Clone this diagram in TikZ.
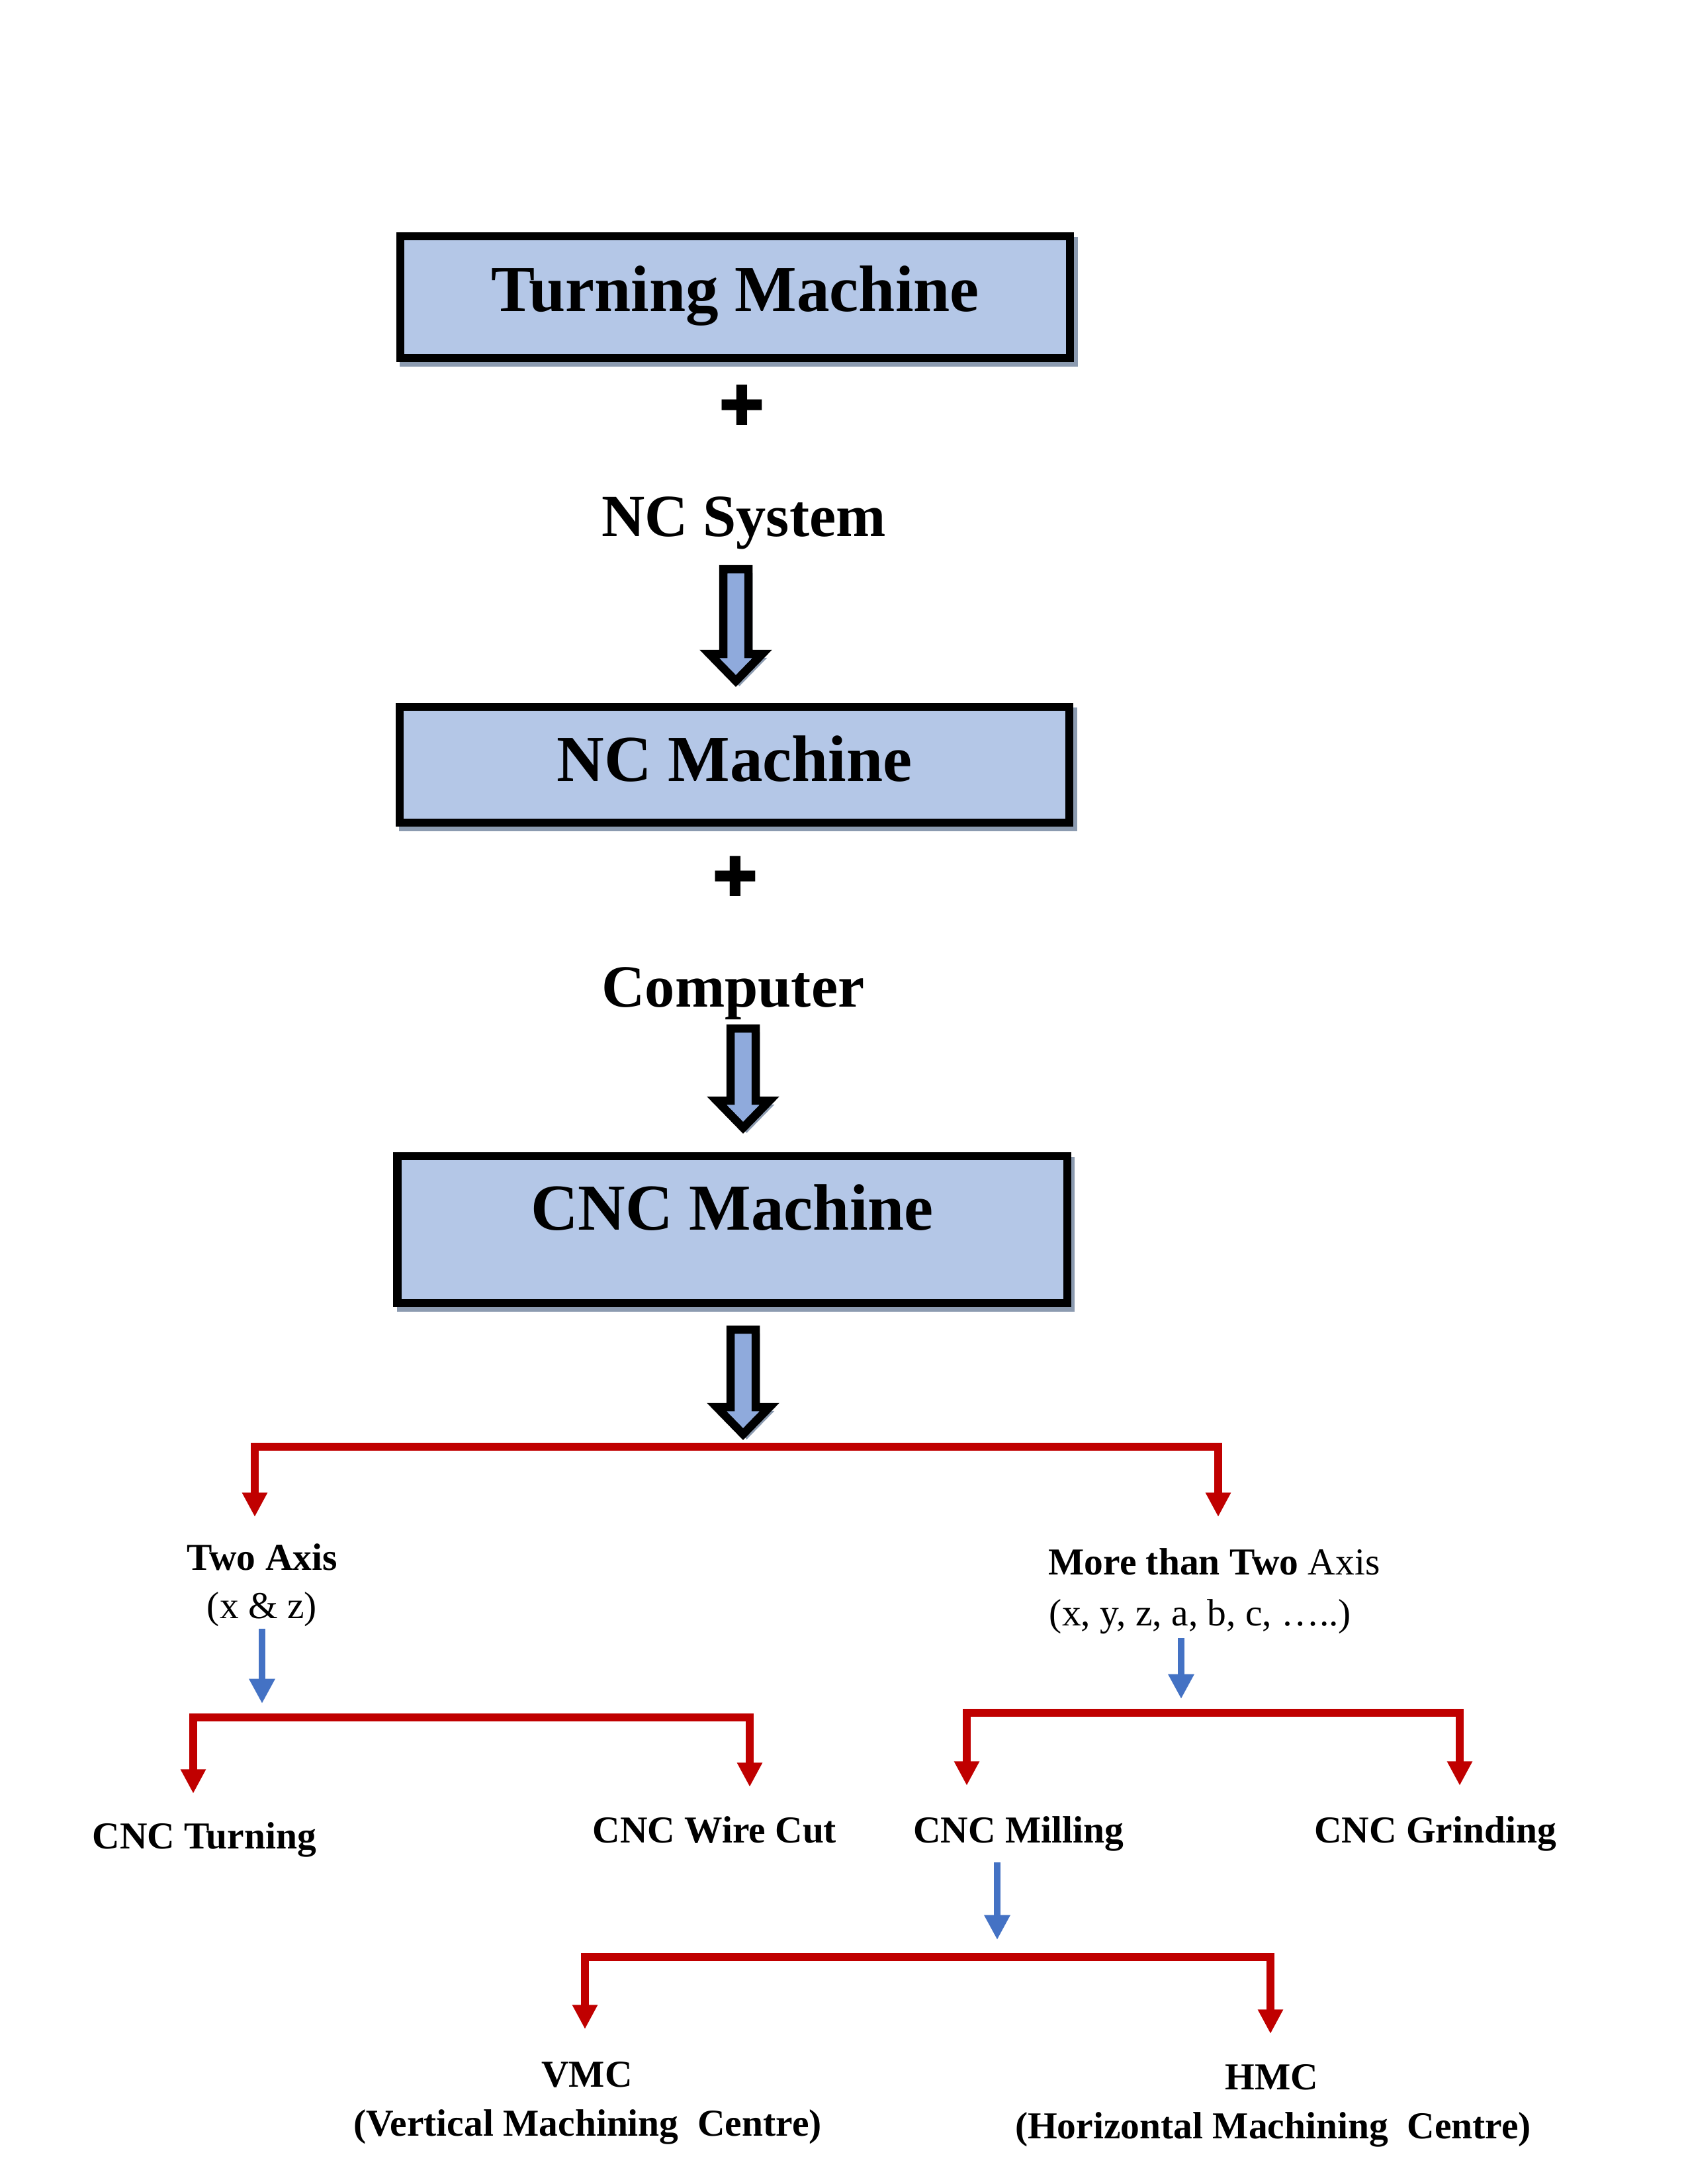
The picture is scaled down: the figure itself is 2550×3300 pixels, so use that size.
\documentclass[tikz,border=0pt]{standalone}
\usepackage{fontspec}
\setmainfont{Liberation Serif}
\newfontfamily\symfont{DejaVu Sans}
\usetikzlibrary{arrows.meta,calc}
\definecolor{boxfill}{HTML}{B4C7E7}
\definecolor{arrfill}{HTML}{8FAADC}
\definecolor{shadowc}{HTML}{8C9BB0}
\definecolor{redc}{HTML}{C00000}
\definecolor{bluec}{HTML}{4472C4}
\tikzset{
  shadowed/.style={preaction={draw=shadowc, fill=shadowc, transform canvas={shift={(1.3pt,-1.6pt)}}}},
  box/.style={draw=black, line width=2.9pt, fill=boxfill, minimum width=242.9pt, inner sep=0pt,
    font=\fontsize{23.8}{28}\selectfont\bfseries, shadowed},
  bigtext/.style={inner sep=0pt, anchor=base, font=\fontsize{21.7}{26}\selectfont\bfseries},
  plussign/.style={inner sep=0pt, font=\symfont\fontsize{20}{24}\selectfont},
  smallb/.style={inner sep=0pt, anchor=base, font=\fontsize{13.8}{16}\selectfont\bfseries},
  smallr/.style={inner sep=0pt, anchor=base, font=\fontsize{13.8}{16}\selectfont},
  blk/.style={draw=black, line width=3pt, fill=arrfill, line join=miter, shadowed},
  redconn/.style={draw=redc, line width=2.9pt, line join=miter,
    {Triangle[width=8.6pt,length=8.8pt]}-{Triangle[width=8.6pt,length=8.8pt]}},
  blueconn/.style={draw=bluec, line width=2.5pt, -{Triangle[width=8.9pt,length=9pt]}}
}
\newcommand\blkarrow[2]{\draw[blk] ($(#1)+(-19,0)$) -- ($(#1)+(19,0)$) -- ($(#2)+(19,-41)$) -- ($(#2)+(40,-41)$) -- (#2) -- ($(#2)+(-40,-41)$) -- ($(#2)+(-19,-41)$) -- cycle;}
\begin{document}
\begin{tikzpicture}[x=0.24pt,y=-0.24pt]
\fill[white] (0,0) rectangle (2550,3300);
\useasboundingbox (0,0) rectangle (2550,3300);

% main chain
\node[box, text height=27.1pt, text depth=17.0pt] (tm) at (1111,449) {Turning Machine};
\node[plussign] (p1) at (1121,612) {✚};
\node[bigtext] (ncs) at (1124,810) {NC System};
\coordinate (a1s) at (1112,860);
\coordinate (a1e) at (1112,1029);
\blkarrow{a1s}{a1e}
\node[box, text height=27.1pt, text depth=14.9pt] (nc) at (1110,1155.5) {NC Machine};
\node[plussign] (p2) at (1111,1324) {✚};
\node[bigtext] (comp) at (1108,1521) {Computer};
\coordinate (a2s) at (1123,1554);
\coordinate (a2e) at (1123,1704);
\blkarrow{a2s}{a2e}
\node[box, text height=26.6pt, text depth=26.6pt] (cnc) at (1106.5,1858) {CNC Machine};
\coordinate (a3s) at (1123,2009);
\coordinate (a3e) at (1123,2167);
\blkarrow{a3s}{a3e}

% first split
\coordinate (r1l) at (385,2292);
\coordinate (r1r) at (1841,2292);
\coordinate (r1j) at (1123,2186);
\draw[redconn] (r1l) |- (r1j) -| (r1r);

\node[smallb] (two) at (396,2372) {Two Axis};
\node[smallr] (xz) at (396,2445) {(x \& z)};
\node[smallr] (more) at (1835,2379) {{\bfseries More than Two} Axis};
\node[smallr] (xyz) at (1814,2456) {(x, y, z, a, b, c, …..)};

% blue arrows
\coordinate (b1s) at (396,2461);
\coordinate (b1e) at (396,2574);
\draw[blueconn] (b1s) -- (b1e);
\coordinate (b2s) at (1785,2475);
\coordinate (b2e) at (1785,2567);
\draw[blueconn] (b2s) -- (b2e);

% second level splits
\coordinate (r2l) at (292,2710);
\coordinate (r2r) at (1133,2700);
\coordinate (r2j) at (396,2595);
\draw[redconn] (r2l) |- (r2j) -| (r2r);
\coordinate (r3l) at (1461,2698);
\coordinate (r3r) at (2206,2698);
\coordinate (r3j) at (1785,2588);
\draw[redconn] (r3l) |- (r3j) -| (r3r);

\node[smallb] (turn) at (309,2793) {CNC Turning};
\node[smallb] (wire) at (1080,2784) {CNC Wire Cut};
\node[smallb] (mill) at (1539,2784) {CNC Milling};
\node[smallb] (grind) at (2169,2784) {CNC Grinding};

\coordinate (b3s) at (1507,2814);
\coordinate (b3e) at (1507,2931);
\draw[blueconn] (b3s) -- (b3e);

\coordinate (r4l) at (884,3066);
\coordinate (r4r) at (1920,3073);
\coordinate (r4j) at (1507,2957);
\draw[redconn] (r4l) |- (r4j) -| (r4r);

\node[smallb] (vmc) at (887,3153) {VMC};
\node[smallb] (vmcl) at (888,3227) {(Vertical Machining\ \ Centre)};
\node[smallb] (hmc) at (1922,3157) {HMC};
\node[smallb] (hmcl) at (1924,3231) {(Horizontal Machining\ \ Centre)};
\end{tikzpicture}
\end{document}
